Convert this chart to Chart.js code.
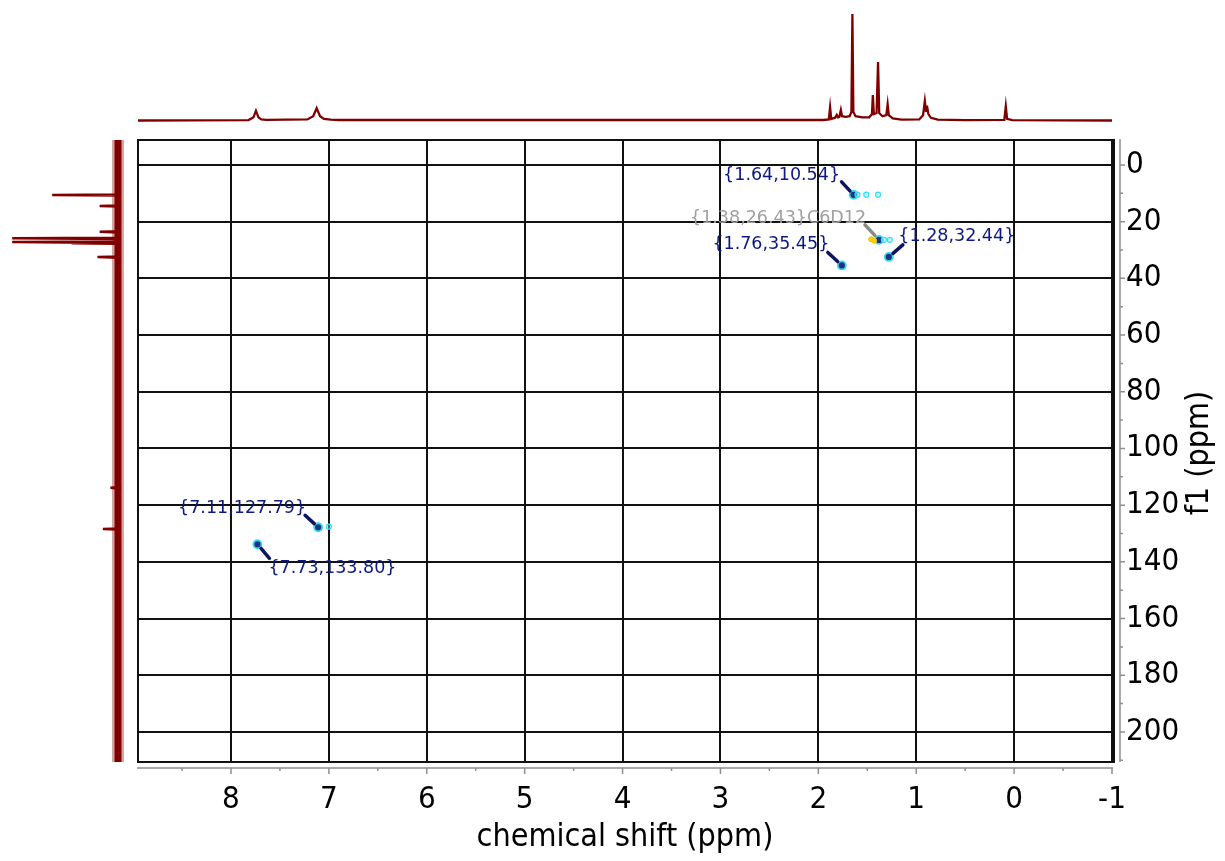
<!DOCTYPE html>
<html>
<head>
<meta charset="utf-8">
<script src="https://cdn.jsdelivr.net/npm/chart.js@4.4.1/dist/chart.umd.min.js"></script>
<style>
  html, body { margin: 0; padding: 0; background: #fff; }
  body { width: 1225px; height: 861px; position: relative; overflow: hidden; }
  canvas { position: absolute; }
  #hsqc { left: 0; top: 0; }
  #proton { left: 138px; top: 0; }
  #carbon { left: 0; top: 140px; }
</style>
</head>
<body>
<canvas id="hsqc" width="1225" height="861"></canvas>
<canvas id="proton" width="974" height="130"></canvas>
<canvas id="carbon" width="130" height="622"></canvas>
<script>
// axis ranges (ppm)
const f2Min = -1, f2Max = 8.95;
const f1Min = -8.8, f1Max = 210.6;

// tick positions
const f2Ticks = [-1, -0.5, 0, 0.5, 1, 1.5, 2, 2.5, 3, 3.5, 4, 4.5, 5, 5.5, 6, 6.5, 7, 7.5, 8, 8.5];
const f1Ticks = [0, 10, 20, 30, 40, 50, 60, 70, 80, 90, 100, 110, 120, 130, 140, 150, 160, 170, 180, 190, 200, 210];

// HSQC cross peaks
const peakH = [1.64, 1.38, 1.76, 1.28, 7.11, 7.73];
const peakC = [10.54, 26.43, 35.45, 32.44, 127.79, 133.80];
const peakTag = ['', 'C6D12', '', '', '', ''];

// outer contour levels around the cross peaks
const contourH = [1.60, 1.51, 1.39, 1.33, 1.27, 7.00];
const contourC = [10.5, 10.5, 10.5, 26.4, 26.4, 127.6];
const contourYellowH = [1.46, 1.43];
const contourYellowC = [26.2, 26.7];

// 1H projection (top)
const protonShift = [8.95, 7.82, 7.77, 7.745, 7.72, 7.69, 7.64, 7.22, 7.16, 7.125, 7.09, 7.05, 6.98, 6.90,
  1.95, 1.893, 1.880, 1.868, 1.83, 1.812, 1.800, 1.785, 1.770, 1.758, 1.72, 1.68, 1.662, 1.652, 1.642,
  1.62, 1.55, 1.48, 1.452, 1.443, 1.433, 1.405, 1.390, 1.378, 1.345, 1.305, 1.292, 1.280, 1.24, 1.15,
  0.97, 0.93, 0.912, 0.900, 0.890, 0.876, 0.85, 0.78, 0.50, 0.10, 0.085, 0.072, 0.02, -1];
const protonInt = [0, 0.4, 3, 9.2, 3, 1, 0.6, 1, 4, 11.5, 4, 1.5, 0.8, 0.5,
  0.5, 1, 12.4, 1.5, 2.5, 5.2, 3, 3.5, 9.9, 4, 3.5, 4, 8, 100, 8,
  4, 3, 3, 6, 24, 6, 7, 55, 7, 4, 5, 15.2, 5, 2, 0.8,
  1, 5, 18.3, 9, 14, 6, 2.5, 0.8, 0.4, 0.6, 13.3, 1.5, 0.4, 0];

// 13C projection (left)
const carbonShift = [-8.8, 10.4, 10.6, 10.8, 14.3, 14.5, 14.7, 23.4, 23.6, 23.8, 25.7, 25.9, 26.1,
  27.0, 27.2, 27.4, 27.6, 27.8, 32.3, 32.5, 32.7, 113.7, 113.9, 114.1, 128.2, 128.4, 128.6, 210.6];
const carbonInt = [0, 0, 61, 0, 0, 17, 0, 0, 17, 0, 0, 98, 0,
  0, 98, 20, 43, 0, 0, 19, 0, 0, 7, 0, 0, 14, 0, 0];

// label placement relative to each peak (pixels): text centre and leader start
const labelPlacement = [
  { tx: -72, ty: -19, lx: -12, ly: -13 },
  { tx: -101, ty: -21, lx: -14, ly: -15 },
  { tx: -71, ty: -21, lx: -14, ly: -13 },
  { tx: 68, ty: -20, lx: 14, ly: -12 },
  { tx: -76, ty: -19, lx: -13, ly: -12 },
  { tx: 75, ty: 24, lx: 12, ly: 14 }
];

const tickFont = { family: '"DejaVu Sans Condensed", "DejaVu Sans", sans-serif', size: 31 };
const specColor = '#800000';
const gridColor = '#111111';
const none = 'rgba(0,0,0,0)';

const frame = {
  id: 'frame',
  beforeDatasetsDraw(chart) {
    const { ctx, chartArea: a, scales: { x, y } } = chart;
    ctx.save();
    ctx.strokeStyle = gridColor;
    ctx.lineWidth = 2;
    ctx.strokeRect(a.left, a.top, a.right - a.left, a.bottom - a.top);
    ctx.beginPath();
    ctx.moveTo(a.right + 2, a.top - 1);
    ctx.lineTo(a.right + 2, a.bottom + 1);
    ctx.stroke();
    // offset grey axes with major / minor ticks
    ctx.strokeStyle = '#8f8f8f';
    ctx.lineWidth = 1.5;
    const ax = a.bottom + 6;
    ctx.beginPath();
    ctx.moveTo(a.left - 1, ax);
    ctx.lineTo(a.right + 1, ax);
    x.ticks.forEach(t => {
      const p = x.getPixelForValue(t.value);
      ctx.moveTo(p, ax);
      ctx.lineTo(p, ax + (Number.isInteger(t.value) ? 6 : 3));
    });
    const ay = a.right + 8;
    ctx.moveTo(ay, a.top - 1);
    ctx.lineTo(ay, a.bottom);
    y.ticks.forEach(t => {
      const p = y.getPixelForValue(t.value);
      ctx.moveTo(ay, p);
      ctx.lineTo(ay + (t.value % 20 === 0 ? 5 : 3), p);
    });
    ctx.stroke();
    // f1 axis title, reading upwards
    ctx.translate(1200, (a.top + a.bottom) / 2 + 2);
    ctx.rotate(-Math.PI / 2);
    ctx.fillStyle = '#000';
    ctx.font = '32px ' + tickFont.family;
    ctx.textAlign = 'center';
    ctx.textBaseline = 'middle';
    ctx.fillText('f1 (ppm)', 0, 0);
    ctx.restore();
  }
};

const peakLabels = {
  id: 'peakLabels',
  afterDatasetsDraw(chart) {
    const { ctx, scales: { x, y } } = chart;
    ctx.save();
    ctx.font = '17.5px "DejaVu Sans", sans-serif';
    ctx.textAlign = 'center';
    ctx.textBaseline = 'middle';
    ctx.lineCap = 'round';
    peakH.forEach((h, i) => {
      const px = x.getPixelForValue(h);
      const py = y.getPixelForValue(peakC[i]);
      const p = labelPlacement[i];
      const col = peakTag[i] ? '#a0a0a0' : '#0c1880';
      ctx.strokeStyle = peakTag[i] ? '#8a8a8a' : '#0b1560';
      ctx.lineWidth = 3.5;
      ctx.beginPath();
      ctx.moveTo(px + p.lx, py + p.ly);
      ctx.lineTo(px + p.lx * 0.3, py + p.ly * 0.3);
      ctx.stroke();
      ctx.fillStyle = col;
      ctx.fillText('{' + h.toFixed(2) + ',' + peakC[i].toFixed(2) + '}' + peakTag[i], px + p.tx, py + p.ty);
    });
    ctx.restore();
  }
};

new Chart(document.getElementById('hsqc'), {
  type: 'scatter',
  data: {
    datasets: [
      {
        data: contourH.map((h, i) => ({ x: h, y: contourC[i] })),
        pointRadius: 2.5, backgroundColor: 'rgba(120,240,255,0.4)', borderColor: '#35e0f5', borderWidth: 1.2
      },
      {
        data: contourYellowH.map((h, i) => ({ x: h, y: contourYellowC[i] })),
        pointRadius: 2.5, backgroundColor: '#ffd400', borderColor: '#f0c000', borderWidth: 1
      },
      {
        data: peakH.map((h, i) => ({ x: h, y: peakC[i] })),
        pointRadius: 4, backgroundColor: '#1e3380', borderColor: '#35d8f0', borderWidth: 1.8
      }
    ]
  },
  options: {
    responsive: false,
    animation: false,
    layout: { padding: { left: 138, top: 140, right: 0, bottom: 0 } },
    plugins: { legend: { display: false }, tooltip: { enabled: false } },
    scales: {
      x: {
        type: 'linear', position: 'bottom', reverse: true, min: f2Min, max: f2Max,
        afterBuildTicks: s => { s.ticks = f2Ticks.map(v => ({ value: v })); },
        afterFit: s => { s.height = 99; },
        grid: { color: c => (c.tick && Number.isInteger(c.tick.value)) ? gridColor : none, lineWidth: 2, drawTicks: false },
        border: { display: false },
        ticks: {
          padding: 19, color: '#000', font: tickFont, autoSkip: false, maxRotation: 0,
          callback: v => Number.isInteger(v) ? String(v) : ''
        },
        title: { display: true, text: 'chemical shift (ppm)', color: '#000', font: { family: tickFont.family, size: 32 }, padding: { top: 0, bottom: 4 } }
      },
      y: {
        type: 'linear', position: 'right', reverse: true, min: f1Min, max: f1Max,
        afterBuildTicks: s => { s.ticks = f1Ticks.map(v => ({ value: v })); },
        afterFit: s => { s.width = 113; },
        grid: { color: c => (c.tick && c.tick.value % 20 === 0) ? gridColor : none, lineWidth: 2, drawTicks: false },
        border: { display: false },
        ticks: {
          padding: 14, color: '#000', font: tickFont, autoSkip: false,
          callback: v => v % 20 === 0 ? String(v) : ''
        }
      }
    }
  },
  plugins: [frame, peakLabels]
});

new Chart(document.getElementById('proton'), {
  type: 'scatter',
  data: {
    datasets: [{
      data: protonShift.map((s, i) => ({ x: s, y: protonInt[i] })),
      showLine: true, borderColor: specColor, borderWidth: 2.3, pointRadius: 0, tension: 0
    }]
  },
  options: {
    responsive: false,
    animation: false,
    plugins: { legend: { display: false }, tooltip: { enabled: false } },
    scales: {
      x: { type: 'linear', display: false, reverse: true, min: f2Min, max: f2Max },
      y: { type: 'linear', display: false, min: -8.9, max: 113.1 }
    }
  }
});

new Chart(document.getElementById('carbon'), {
  type: 'scatter',
  data: {
    datasets: [
      {
        // faint halo of the noisy baseline
        data: [{ x: 0, y: f1Min }, { x: 0, y: f1Max }],
        showLine: true, borderColor: 'rgba(128,0,0,0.35)', borderWidth: 12, pointRadius: 0
      },
      {
        data: [{ x: 0, y: f1Min }, { x: 0, y: f1Max }],
        showLine: true, borderColor: specColor, borderWidth: 7, pointRadius: 0
      },
      {
        data: carbonShift.map((s, i) => ({ x: carbonInt[i], y: s })),
        showLine: true, borderColor: specColor, borderWidth: 2.5, pointRadius: 0, tension: 0
      }
    ]
  },
  options: {
    responsive: false,
    animation: false,
    plugins: { legend: { display: false }, tooltip: { enabled: false } },
    scales: {
      x: { type: 'linear', display: false, reverse: true, min: -11.11, max: 109.26 },
      y: { type: 'linear', display: false, reverse: true, min: f1Min, max: f1Max }
    }
  }
});
</script>
</body>
</html>
